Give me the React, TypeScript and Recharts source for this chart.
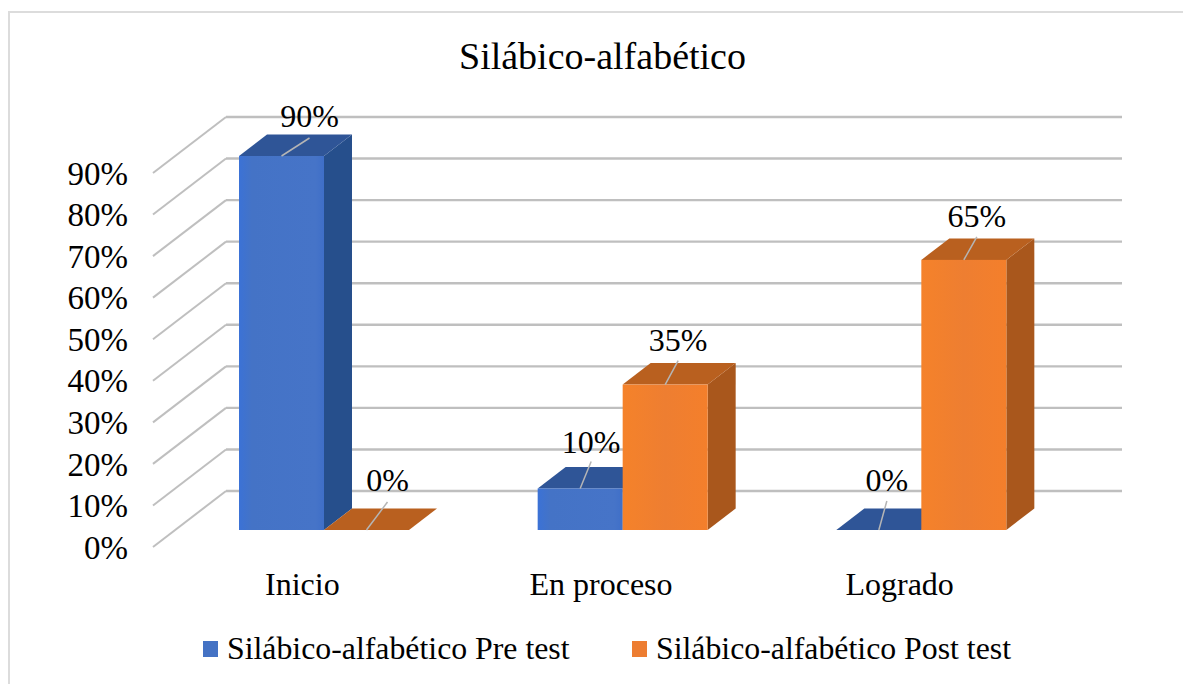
import { BarChart, Bar, XAxis, YAxis, CartesianGrid, Legend, LabelList } from 'recharts'

const CATEGORIES = ['Inicio', 'En proceso', 'Logrado']
const PRE_TEST = [0.9, 0.1, 0]
const POST_TEST = [0, 0.35, 0.65]
const TICKS = [0, 0.1, 0.2, 0.3, 0.4, 0.5, 0.6, 0.7, 0.8, 0.9]

const data = CATEGORIES.map((name, i) => ({ name, pre: PRE_TEST[i], post: POST_TEST[i] }))

const FONT = '"Liberation Serif", "Times New Roman", serif'

// depth of the fake 3D box: back wall offset, and how far the bars sit into the floor
const WALL_DX = 73
const WALL_DY = 56
const BAR_DX = 22
const BAR_DY = 17
const DEPTH_DX = 28
const DEPTH_DY = 21.5

// leader line end and label centre, relative to the bar's top centre
const PRE_LEADER = [[28, -18, -40], [11, -27, -46], [8, -29, -50]]
const POST_LEADER = [[21, -28, -50], [13, -24, -45], [13, -23, -44]]

const pct = (v: number) => `${Math.round(v * 100)}%`

function gridLine(p: any) {
  const { x1, x2, y1 } = p
  return (
    <g key={p.key}>
      <line x1={x1} y1={y1} x2={x1 + WALL_DX} y2={y1 - WALL_DY} stroke="#bfbfbf" strokeWidth={2} />
      <line x1={x1 + WALL_DX} y1={y1 - WALL_DY} x2={x2 + WALL_DX} y2={y1 - WALL_DY} stroke="#bfbfbf" strokeWidth={2.4} />
    </g>
  )
}

function box(p: any, front: string, top: string, side: string) {
  const x = p.x + BAR_DX
  const y = p.y - BAR_DY
  const w = p.width
  const h = p.height
  return (
    <g>
      <path d={`M${x + w} ${y} L${x + w + DEPTH_DX} ${y - DEPTH_DY} V${y + h - DEPTH_DY} L${x + w} ${y + h} Z`} fill={side} />
      <path d={`M${x} ${y} L${x + DEPTH_DX} ${y - DEPTH_DY} H${x + w + DEPTH_DX} L${x + w} ${y} Z`} fill={top} />
      {h > 0 && <rect x={x} y={y} width={w} height={h} fill={front} />}
    </g>
  )
}

const PreShape = (p: any) => box(p, 'url(#preFront)', '#2f5597', '#264f8c')
const PostShape = (p: any) => box(p, 'url(#postFront)', '#b9601f', '#a9571c')

function dataLabel(offsets: number[][]) {
  return (p: any) => {
    const [dx, lineDy, textDy] = offsets[p.index]
    const cx = p.x + BAR_DX + p.width / 2
    const cy = p.y - BAR_DY
    return (
      <g>
        <line x1={cx} y1={cy} x2={cx + dx} y2={cy + lineDy} stroke="#b5b5b5" strokeWidth={1.5} />
        <text x={cx + dx} y={cy + textDy} textAnchor="middle" dominantBaseline="central" fontFamily={FONT} fontSize={32} fill="#000">
          {pct(p.value)}
        </text>
      </g>
    )
  }
}

function LegendRow({ payload }: any) {
  const spots = [203, 632]
  return (
    <div style={{ position: 'relative', height: 40, width: 1183 }}>
      {(payload ?? []).map((e: any, i: number) => (
        <div key={e.value} style={{ position: 'absolute', left: spots[i], top: 0, display: 'flex', alignItems: 'center', height: 40 }}>
          <span style={{ width: 15, height: 16, background: e.color, marginRight: 9, display: 'inline-block' }} />
          <span style={{ fontFamily: FONT, fontSize: 31.8, color: '#000', whiteSpace: 'nowrap' }}>{e.value}</span>
        </div>
      ))}
    </div>
  )
}

export default function App() {
  return (
    <div style={{ position: 'absolute', left: 0, top: 0, width: 1183, height: 684, background: '#fff', overflow: 'hidden' }}>
      <div style={{ position: 'absolute', left: 8, top: 11, width: 1200, height: 700, border: '2px solid #dcdcdc' }} />
      <div style={{ position: 'absolute', left: 0, top: 34, width: 1205, textAlign: 'center', fontFamily: FONT, fontSize: 38, color: '#000' }}>
        Silábico-alfabético
      </div>
      <BarChart
        width={1183}
        height={684}
        data={data}
        margin={{ top: 173, right: 134, bottom: 107, left: 0 }}
        barSize={85}
        barGap={0}
        style={{ position: 'absolute', left: 0, top: 0 }}
      >
        <defs>
          <linearGradient id="preFront" x1="0" y1="0" x2="1" y2="0">
            <stop offset="0" stopColor="#3b72d6" />
            <stop offset="0.15" stopColor="#4473c6" />
            <stop offset="0.9" stopColor="#4674c8" />
            <stop offset="1" stopColor="#3f6fc8" />
          </linearGradient>
          <linearGradient id="postFront" x1="0" y1="0" x2="1" y2="0">
            <stop offset="0" stopColor="#f5822a" />
            <stop offset="0.5" stopColor="#ee7e31" />
            <stop offset="1" stopColor="#f47f2b" />
          </linearGradient>
        </defs>
        <CartesianGrid vertical={false} horizontal={gridLine} />
        <XAxis
          dataKey="name"
          axisLine={false}
          tickLine={false}
          tickMargin={19}
          tick={{ fontFamily: FONT, fontSize: 32, fill: '#000' }}
        />
        <YAxis
          width={153}
          domain={[0, 0.9]}
          ticks={TICKS}
          interval={0}
          axisLine={false}
          tickLine={false}
          tickMargin={19}
          tickFormatter={pct}
          tick={{ fontFamily: FONT, fontSize: 33, fill: '#000' }}
        />
        <Legend
          layout="vertical"
          align="center"
          verticalAlign="middle"
          itemSorter={null}
          content={<LegendRow />}
          wrapperStyle={{ left: 0, top: 629, bottom: 'auto', width: 1183 }}
        />
        <Bar dataKey="pre" name="Silábico-alfabético Pre test" fill="#4472c4" shape={PreShape} isAnimationActive={false}>
          <LabelList dataKey="pre" content={dataLabel(PRE_LEADER)} />
        </Bar>
        <Bar dataKey="post" name="Silábico-alfabético Post test" fill="#ed7d31" shape={PostShape} isAnimationActive={false}>
          <LabelList dataKey="post" content={dataLabel(POST_LEADER)} />
        </Bar>
      </BarChart>
    </div>
  )
}
